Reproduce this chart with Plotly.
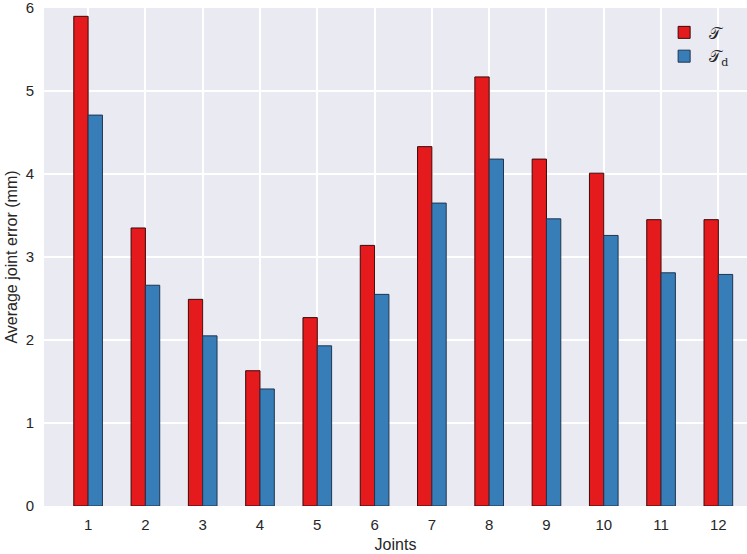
import plotly.graph_objects as go

joints = [1, 2, 3, 4, 5, 6, 7, 8, 9, 10, 11, 12]
err_T = [5.90, 3.35, 2.49, 1.63, 2.27, 3.14, 4.33, 5.17, 4.18, 4.01, 3.45, 3.45]
err_Td = [4.71, 2.66, 2.05, 1.41, 1.93, 2.55, 3.65, 4.18, 3.46, 3.26, 2.81, 2.79]
y_ticks = [0, 1, 2, 3, 4, 5, 6]

fig = go.Figure()
fig.add_trace(go.Bar(x=joints, y=err_T, name="𝒯",
                     marker=dict(color="#e41a1c", line=dict(color="#3a0a0a", width=1))))
fig.add_trace(go.Bar(x=joints, y=err_Td, name="𝒯<sub>d</sub>",
                     marker=dict(color="#377eb8", line=dict(color="#1f3550", width=1))))

fig.update_layout(
    width=747, height=554,
    margin=dict(l=44, r=0, t=8, b=48),
    paper_bgcolor="white", plot_bgcolor="#EAEAF2",
    barmode="group", bargap=0.5, bargroupgap=0,
    font=dict(family="Liberation Sans, Arial, sans-serif", size=15, color="#262626"),
    legend=dict(x=0.875, y=0.985, xanchor="left", yanchor="top", itemwidth=40,
                tracegroupgap=2,
                bgcolor="rgba(0,0,0,0)", font=dict(size=16, family="DejaVu Serif, serif")),
    xaxis=dict(title=dict(text="Joints", standoff=6, font=dict(size=16)), range=[0.23, 12.5],
               tickvals=joints, ticktext=[str(j) for j in joints], automargin=False,
               ticklabelstandoff=8,
               showgrid=True, gridcolor="white", gridwidth=1.5, zeroline=False,
               showline=False, ticks=""),
    yaxis=dict(title=dict(text="Average joint error (mm)", standoff=4, font=dict(size=16)),
               range=[0, 6.0005], ticklabelstandoff=9,
               tickvals=y_ticks, automargin=False, ticklabeloverflow="allow",
               showgrid=True, gridcolor="white",
               gridwidth=1.5, zeroline=False, showline=False, ticks=""),
)

fig.write_html("out.html", config={"displayModeBar": False},
               post_script="document.body.style.margin='0';document.body.style.padding='0';")
